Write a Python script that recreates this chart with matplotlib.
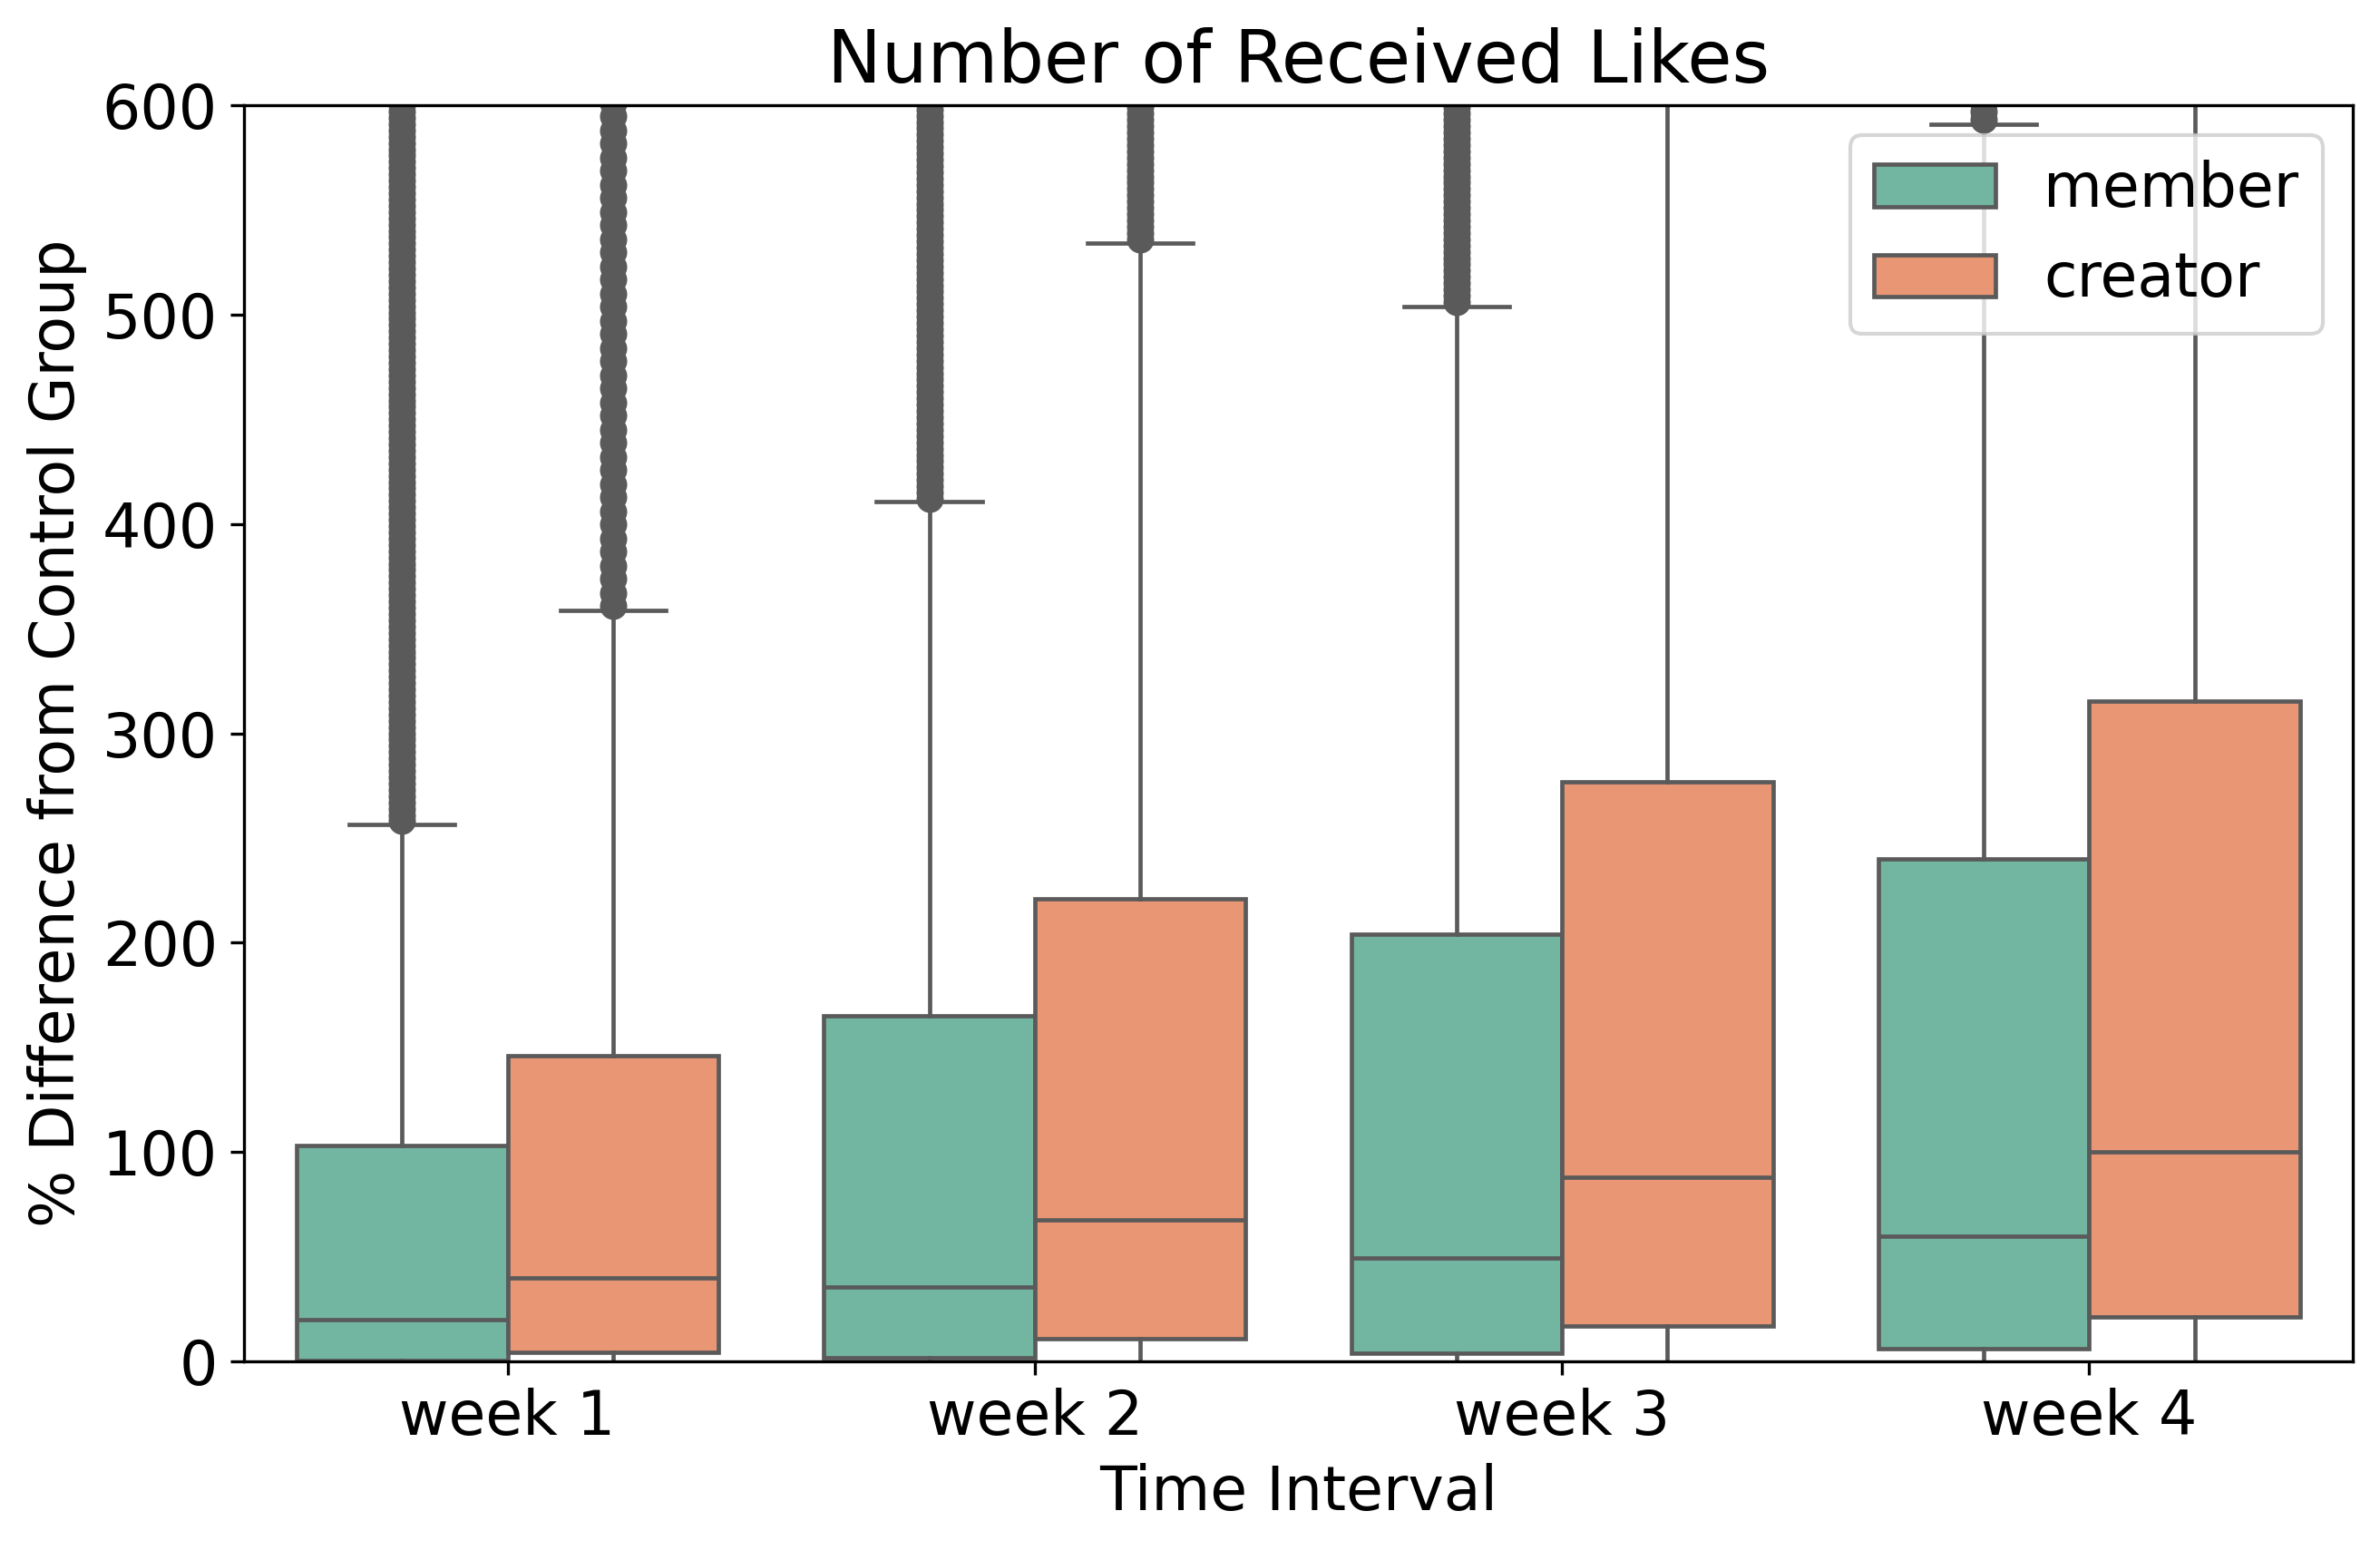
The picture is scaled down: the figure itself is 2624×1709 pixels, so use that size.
import colorsys
import matplotlib
matplotlib.use('Agg')
import matplotlib.pyplot as plt
from matplotlib.patches import Patch

plt.rcParams['font.size'] = 16

weeks = ['week 1', 'week 2', 'week 3', 'week 4']
groups = ['member', 'creator']

# box statistics (% difference from control group)
member_q1 = [0.3, 1.8, 4.0, 6.2]
member_med = [20, 35.5, 49.5, 60]
member_q3 = [103, 165, 204, 240]
member_whislo = [-100, -100, -100, -100]
member_whishi = [256.5, 410.5, 504, 591]

creator_q1 = [4.5, 10.8, 16.8, 21.4]
creator_med = [40, 67.5, 88, 100]
creator_q3 = [146, 221, 277, 315.5]
creator_whislo = [-100, -100, -100, -100]
creator_whishi = [358.5, 534, 700, 760]

# outliers above the upper whisker (dense columns)
member_fliers = [
    [258, 261, 264, 267, 270, 273, 276, 279, 282, 285, 288, 291, 294, 297,
     300, 303, 306, 309, 312, 315, 318, 321, 324, 327, 330, 333, 336, 339,
     342, 345, 348, 351, 354, 357, 360, 363, 366, 369, 372, 375, 378, 381,
     384, 387, 390, 393, 396, 399, 402, 405, 408, 411, 414, 417, 420, 423,
     426, 429, 432, 435, 438, 441, 444, 447, 450, 453, 456, 459, 462, 465,
     468, 471, 474, 477, 480, 483, 486, 489, 492, 495, 498, 501, 504, 507,
     510, 513, 516, 519, 522, 525, 528, 531, 534, 537, 540, 543, 546, 549,
     552, 555, 558, 561, 564, 567, 570, 573, 576, 579, 582, 585, 588, 591,
     594, 597, 600, 603, 606, 609],
    [412, 415, 418, 421, 424, 427, 430, 433, 436, 439, 442, 445, 448, 451,
     454, 457, 460, 463, 466, 469, 472, 475, 478, 481, 484, 487, 490, 493,
     496, 499, 502, 505, 508, 511, 514, 517, 520, 523, 526, 529, 532, 535,
     538, 541, 544, 547, 550, 553, 556, 559, 562, 565, 568, 571, 574, 577,
     580, 583, 586, 589, 592, 595, 598, 601, 604, 607, 610],
    [506, 509, 512, 515, 518, 521, 524, 527, 530, 533, 536, 539, 542, 545,
     548, 551, 554, 557, 560, 563, 566, 569, 572, 575, 578, 581, 584, 587,
     590, 593, 596, 599, 602, 605, 608],
    [593, 597, 601, 605],
]
creator_fliers = [
    [361, 367, 374, 380, 387, 393, 400, 406, 413, 419, 426, 432, 439, 445,
     452, 458, 465, 471, 478, 484, 491, 497, 504, 510, 517, 523, 530, 536,
     543, 549, 556, 562, 569, 575, 582, 588, 595, 601, 608],
    [536, 539, 542, 545, 548, 551, 554, 557, 560, 563, 566, 569, 572, 575,
     578, 581, 584, 587, 590, 593, 596, 599, 602, 605, 608],
    [],
    [],
]


def desaturate(hexcol, prop=0.75):
    r, g, b = matplotlib.colors.to_rgb(hexcol)
    h, l, s = colorsys.rgb_to_hls(r, g, b)
    return colorsys.hls_to_rgb(h, l, s * prop)


colors = [desaturate('#66c2a5'), desaturate('#fc8d62')]
gray = '#5a5a5a'
lw = 1.125

fig = plt.figure(figsize=(2624 / 300, 1709 / 300), dpi=300)
ax = fig.add_axes([0.1025, 0.1217, 0.8861, 0.8104])

series = [
    (member_q1, member_med, member_q3, member_whislo, member_whishi, member_fliers),
    (creator_q1, creator_med, creator_q3, creator_whislo, creator_whishi, creator_fliers),
]
offsets = [-0.2, 0.2]

for k, (q1, med, q3, lo, hi, fl) in enumerate(series):
    stats = []
    for i in range(len(weeks)):
        stats.append(dict(q1=q1[i], med=med[i], q3=q3[i], whislo=lo[i],
                          whishi=hi[i], fliers=fl[i], label=weeks[i]))
    pos = [i + offsets[k] for i in range(len(weeks))]
    ax.bxp(stats, positions=pos, widths=0.4, capwidths=0.2,
           patch_artist=True, showfliers=True, manage_ticks=False,
           boxprops=dict(facecolor=colors[k], edgecolor=gray, linewidth=lw),
           whiskerprops=dict(color=gray, linewidth=lw),
           capprops=dict(color=gray, linewidth=lw),
           medianprops=dict(color=gray, linewidth=lw),
           flierprops=dict(marker='o', markerfacecolor=gray,
                           markeredgecolor=gray, markersize=6,
                           markeredgewidth=1.2))

ax.set_xlim(-0.5, len(weeks) - 0.5)
ax.set_ylim(0, 600)
ax.set_xticks(range(len(weeks)))
ax.set_xticklabels(weeks)
ax.set_yticks([0, 100, 200, 300, 400, 500, 600])
ax.set_xlabel('Time Interval')
ax.set_ylabel('% Difference from Control Group')
ax.set_title('Number of Received Likes')

handles = [Patch(facecolor=colors[k], edgecolor=gray, linewidth=lw, label=groups[k])
           for k in range(2)]
ax.legend(handles=handles, loc='upper right')

fig.savefig('out.png', dpi=300)
